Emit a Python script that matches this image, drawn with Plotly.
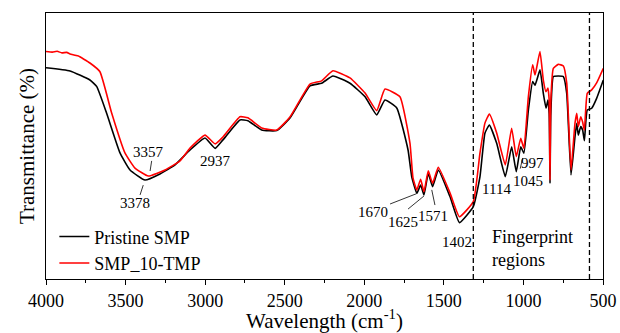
import plotly.graph_objects as go

# Wavenumber (cm-1) and transmittance (a.u., 0-100 scale)
wn_pristine = [4000, 3849, 3724, 3681, 3619, 3535, 3472, 3378, 3284, 3189, 3095, 3001, 2937,
               2888, 2781, 2731, 2645, 2550, 2467, 2341, 2268, 2197, 2090, 1995, 1922, 1870,
               1796, 1725, 1702, 1670, 1646, 1625, 1598, 1571, 1535, 1461, 1402, 1315, 1273,
               1242, 1214, 1168, 1114, 1074, 1045, 1017, 997, 969, 942, 927, 896, 875, 858,
               846, 838, 833, 828, 812, 781, 749, 728, 701, 676, 665, 655, 640, 628, 617,
               599, 571, 540, 498]
t_pristine = [79.4, 78.2, 74.8, 72.3, 62.3, 47.4, 41.0, 37.2, 39.5, 42.9, 48.5, 53.0, 49.1,
              52.3, 59.8, 59.5, 56.0, 55.8, 60.5, 72.6, 73.6, 76.3, 73.6, 68.5, 61.7, 67.3,
              64.3, 48.5, 38.5, 32.2, 35.3, 31.6, 39.7, 34.7, 41.0, 30.9, 21.2, 27.2, 38.5,
              54.8, 57.9, 51.0, 38.5, 49.7, 40.3, 49.7, 47.3, 63.5, 74.2, 72.9, 78.6, 69.8, 64.2,
              67.3, 62.0, 36.0, 62.0, 76.1, 76.3, 76.1, 69.8, 39.1, 53.5, 58.5, 54.1, 57.3, 56.0, 52.0,
              63.5, 64.2, 67.9, 74.8]

wn_tmp = [4000, 3960, 3930, 3900, 3870, 3849, 3800, 3724, 3661, 3587, 3504, 3441, 3357, 3252,
          3158, 3095, 3001, 2937,
          2888, 2781, 2731, 2645, 2550, 2467, 2341, 2268, 2197, 2090, 1995, 1922, 1870,
          1776, 1713, 1694, 1670, 1646, 1625, 1598, 1571, 1535, 1461, 1402, 1315, 1273,
          1242, 1214, 1168, 1114, 1074, 1045, 1017, 997, 969, 942, 927, 896, 875, 858,
          846, 838, 833, 828, 812, 781, 749, 728, 701, 676, 665, 655, 640, 628, 617,
          599, 571, 540, 498]
t_tmp = [85.5, 85.3, 85.6, 85.0, 85.2, 84.6, 83.9, 81.2, 77.9, 62.3, 47.4, 41.7, 38.7, 41.0,
         44.4, 49.2, 54.1, 50.8,
         53.4, 61.0, 60.6, 56.8, 56.0, 60.9, 73.3, 74.5, 78.3, 75.6, 69.9, 63.3, 71.4,
         68.5, 51.1, 38.0, 33.5, 37.5, 32.8, 40.7, 36.0, 42.0, 32.3, 23.4, 29.1, 47.4,
         58.6, 62.0, 54.9, 42.9, 56.7, 46.0, 52.9, 49.1, 68.5, 80.5, 76.7, 85.5, 74.8, 70.4,
         71.8, 67.0, 37.2, 67.0, 79.2, 80.7, 80.1, 73.7, 41.0, 58.6, 62.3, 57.3, 61.0, 59.0, 56.0,
         69.8, 71.1, 73.7, 79.2]

series_names = ["Pristine SMP", "SMP_10-TMP"]
series_colors = ["#000000", "#ff0000"]

x_ticks = [4000, 3500, 3000, 2500, 2000, 1500, 1000, 500]
region_bounds = [1315, 585]

# peak labels: text, x, y
peak_labels = ["3357", "3378", "2937", "1670", "1625", "1571", "1402", "1114", "1045", "997"]
peak_x = [3359, 3441, 2938, 1943, 1759, 1566, 1419, 1168, 969, 942]
peak_y = [47.7, 28.6, 44.5, 25.3, 21.5, 23.7, 14.0, 33.8, 36.8, 43.5]
# leader lines: x0, y0, x1, y1
leaders = [
    (3336, 44.4, 3346, 40.6),
    (3389, 35.3, 3409, 31.6),
    (1838, 28.2, 1675, 32.0),
    (1725, 26.3, 1625, 31.2),
    (1556, 27.8, 1576, 33.5),
    (1020, 41.5, 1005, 45.5),
]

FONT = "Times New Roman, Liberation Serif, serif"

fig = go.Figure()
for wn, t, name, col in [(wn_pristine, t_pristine, series_names[0], series_colors[0]),
                         (wn_tmp, t_tmp, series_names[1], series_colors[1])]:
    fig.add_trace(go.Scatter(x=wn, y=t, mode="lines", name=name,
                             line=dict(color=col, width=1.6, shape="spline", smoothing=0.4)))

shapes = []
for b in region_bounds:
    shapes.append(dict(type="line", xref="x", yref="paper", x0=b, x1=b, y0=0, y1=1,
                       line=dict(color="#000000", width=1.3, dash="5px,3px")))
for x0, y0, x1, y1 in leaders:
    shapes.append(dict(type="line", xref="x", yref="y", x0=x0, y0=y0, x1=x1, y1=y1,
                       line=dict(color="#000000", width=0.8)))

annotations = []
for txt, ax_, ay_ in zip(peak_labels, peak_x, peak_y):
    annotations.append(dict(x=ax_, y=ay_, xref="x", yref="y", text=txt, showarrow=False,
                            font=dict(family=FONT, size=15, color="#000000")))
annotations.append(dict(x=1210, y=11.3, xref="x", yref="y", text="Fingerprint<br>regions",
                        showarrow=False, xanchor="left", align="left",
                        font=dict(family=FONT, size=18, color="#000000")))

fig.update_layout(
    width=620, height=333,
    margin=dict(l=46, r=17, t=13, b=54, autoexpand=False),
    paper_bgcolor="white", plot_bgcolor="white",
    font=dict(family=FONT, color="#000000"),
    shapes=shapes, annotations=annotations,
    legend=dict(x=0.015, y=0.228, xanchor="left", yanchor="top",
                bgcolor="rgba(0,0,0,0)", font=dict(family=FONT, size=18),
                tracegroupgap=0, itemwidth=30),
    showlegend=True,
)
fig.update_xaxes(range=[4000, 500], tickvals=x_ticks, ticks="outside", ticklen=5,
                 tickcolor="#000000", showline=True, linecolor="#000000", linewidth=1.2,
                 mirror=True, showgrid=False, zeroline=False, automargin=False,
                 tickfont=dict(family=FONT, size=18),
                 minor=dict(dtick=250, tick0=500, ticks="outside", ticklen=3, tickcolor="#000000"),
                 title=dict(text="Wavelength (cm<sup>-1</sup>)", font=dict(family=FONT, size=21),
                            standoff=0))
fig.update_yaxes(range=[0, 100], showticklabels=False, ticks="", showline=True,
                 linecolor="#000000", linewidth=1.2, mirror=True, showgrid=False, zeroline=False,
                 automargin=False,
                 title=dict(text="Transmittance (%)", font=dict(family=FONT, size=21), standoff=4))

fig.write_html("out.html")
